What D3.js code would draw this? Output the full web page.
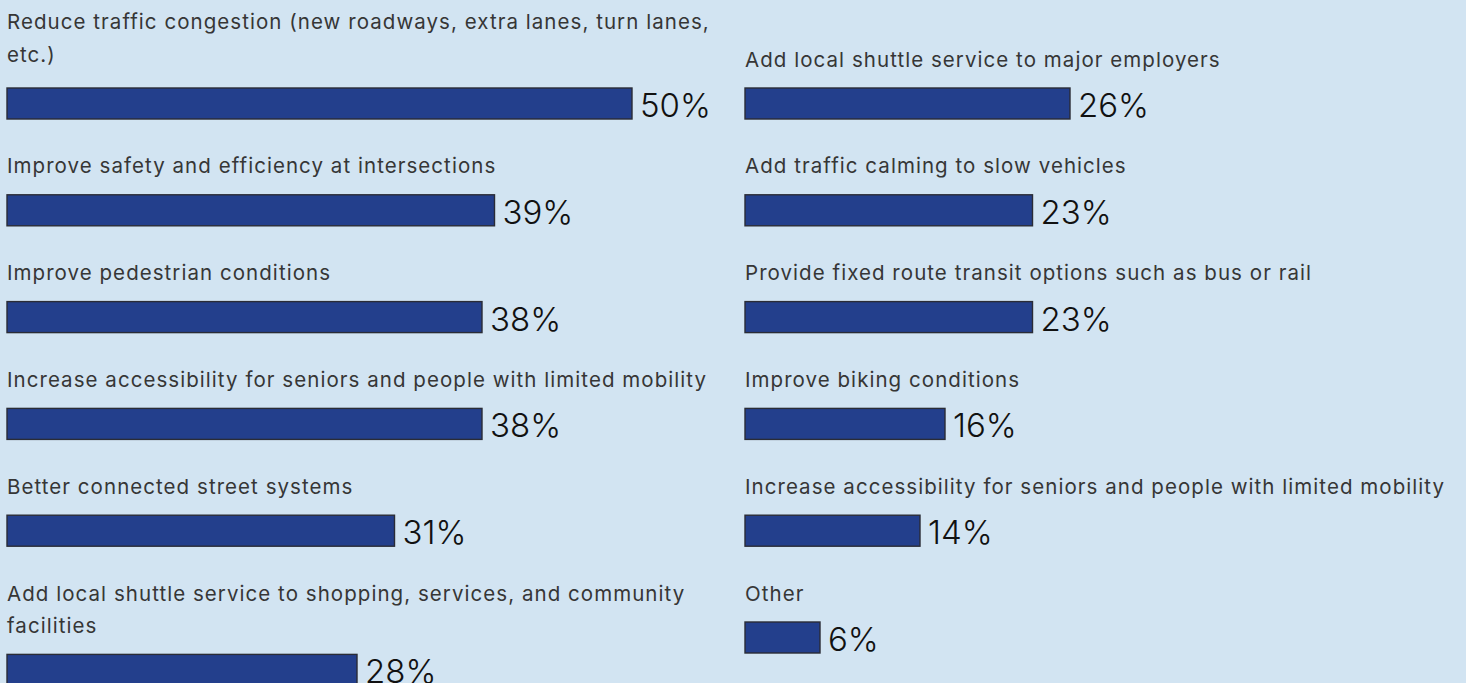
<!DOCTYPE html>
<html>
<head>
<meta charset="utf-8">
<script src="https://cdn.jsdelivr.net/npm/d3@7"></script>
<style>
  html, body { margin: 0; padding: 0; background: #d2e4f2; overflow: hidden; }
  svg { display: block; }
</style>
</head>
<body>
<svg id="chart" width="1466" height="683"></svg>
<script>
// Survey responses, two columns of horizontal bars (percent of respondents)
const leftLabels = [
  "Reduce traffic congestion (new roadways, extra lanes, turn lanes,\netc.)",
  "Improve safety and efficiency at intersections",
  "Improve pedestrian conditions",
  "Increase accessibility for seniors and people with limited mobility",
  "Better connected street systems",
  "Add local shuttle service to shopping, services, and community\nfacilities"
];
const leftValues = [50, 39, 38, 38, 31, 28];

const rightLabels = [
  "Add local shuttle service to major employers",
  "Add traffic calming to slow vehicles",
  "Provide fixed route transit options such as bus or rail",
  "Improve biking conditions",
  "Increase accessibility for seniors and people with limited mobility",
  "Other"
];
const rightValues = [26, 23, 23, 16, 14, 6];

const svg = d3.select("#chart");

const barH = 31;
const rowPitch = 106.8;
const lineH = 32.4;
const labelGap = 21.5;   // last label baseline to bar top
const firstBarTop = 88;

// shared value scale for both columns
const x = d3.scaleLinear().domain([0, 50]).range([0, 625]);

const columns = [
  { x0: 7, labels: leftLabels, values: leftValues },
  { x0: 745, labels: rightLabels, values: rightValues }
];

columns.forEach(col => {
  const g = svg.append("g").attr("transform", `translate(${col.x0},0)`);
  let barTop = firstBarTop;
  const rows = col.labels.map((label, i) => {
    const lines = label.split("\n");
    if (i > 0) barTop += rowPitch + lineH * (lines.length - 1);
    // a wrapped label in the top row sits flush with the top edge
    const lift = (i === 0 && lines.length > 1) ? 5 : 0;
    const firstBaseline = barTop - labelGap - lineH * (lines.length - 1) - lift;
    return { label, lines, value: col.values[i], barTop, firstBaseline };
  });

  const row = g.selectAll("g.row").data(rows).join("g").attr("class", "row");

  row.append("text")
    .attr("font-family", "Inter, 'Noto Sans', sans-serif")
    .attr("font-size", 20.5)
    .attr("letter-spacing", 1.05)
    .attr("fill", "#363636")
    .selectAll("tspan")
    .data(d => d.lines.map((t, k) => ({ t, y: d.firstBaseline + k * lineH })))
    .join("tspan")
    .attr("x", 0)
    .attr("y", d => d.y)
    .text(d => d.t);

  row.append("rect")
    .attr("x", 0)
    .attr("y", d => d.barTop)
    .attr("width", d => x(d.value))
    .attr("height", barH)
    .attr("fill", "#233f8c")
    .attr("stroke", "#2a2c36")
    .attr("stroke-width", 1.4);

  row.append("text")
    .attr("x", d => x(d.value) + 8)
    .attr("y", d => d.barTop + barH - 2)
    .attr("font-family", "Inter, 'Noto Sans', sans-serif")
    .attr("font-size", 33)
    .attr("font-weight", 300)
    .attr("fill", "#111")
    .text(d => d.value + "%");
});
</script>
</body>
</html>
